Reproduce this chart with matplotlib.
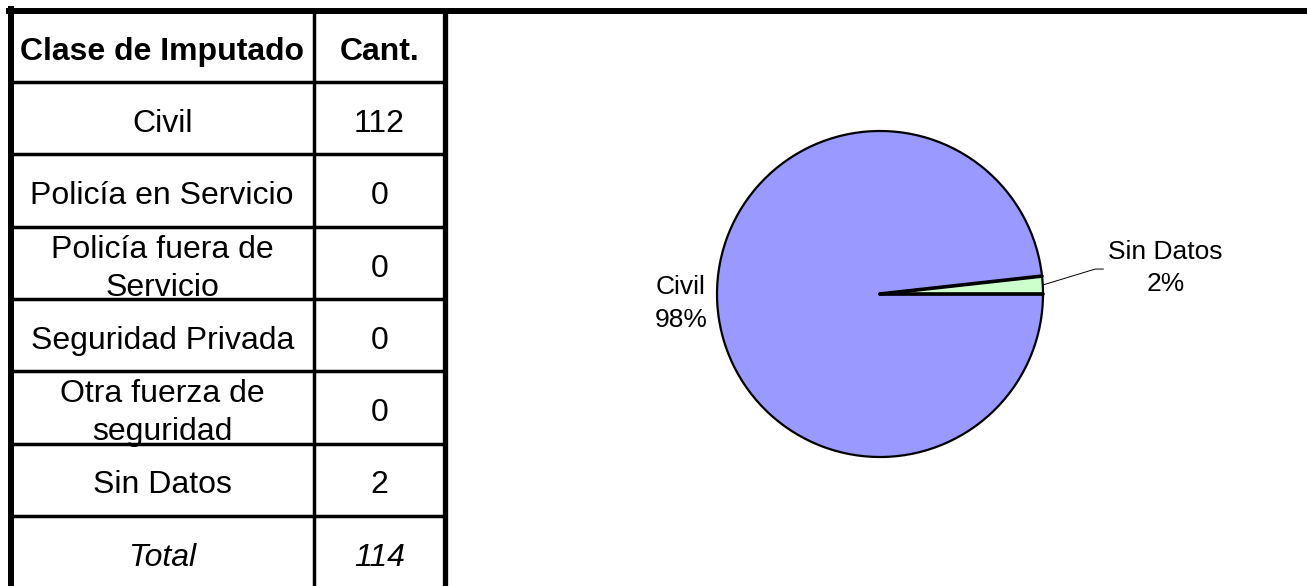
import numpy as np
import matplotlib.pyplot as plt
from matplotlib.transforms import Bbox

# table data
header = ["Clase de Imputado", "Cant."]
categories = ["Civil", "Policía en Servicio", "Policía fuera de\nServicio",
              "Seguridad Privada", "Otra fuerza de\nseguridad", "Sin Datos"]
counts = [112, 0, 0, 0, 0, 2]
total_label = "Total"

slice_colors = {"Civil": "#9999ff", "Sin Datos": "#ccffcc"}

W, H = 1307, 586
fig = plt.figure(figsize=(W / 100, H / 100), dpi=100)
ax = fig.add_axes([0, 0, 1, 1])
ax.set_xlim(0, W)
ax.set_ylim(H, 0)
ax.axis("off")

font = "Liberation Sans"
fs = 23

col_x = [10.5, 314, 444.5]
top = 11
head_h = 71
row_h = 72.3
n_rows = len(categories) + 1
row_y = [top, top + head_h] + [top + head_h + row_h * (i + 1) for i in range(n_rows)]


def cell(text, col, r, **kw):
    x0, x1 = col_x[col], col_x[col + 1]
    y0, y1 = row_y[r], row_y[r + 1]
    pts = ax.transData.transform([(x0, y0), (x1, y1)])
    clip = Bbox.from_extents(pts[:, 0].min(), pts[:, 1].min(), pts[:, 0].max(), pts[:, 1].max())
    lines = text.split("\n")
    yc = (y0 + y1) / 2 + 13.8
    for i, line in enumerate(lines):
        y = yc + (i - (len(lines) - 1) / 2) * 38
        t = ax.text((x0 + x1) / 2, y, line, ha="center", va="baseline",
                    fontsize=fs, family=font, **kw)
        t.set_clip_box(clip)


cell(header[0], 0, 0, fontweight="bold")
cell(header[1], 1, 0, fontweight="bold")
for i, (c, v) in enumerate(zip(categories, counts)):
    cell(c, 0, i + 1)
    cell(str(v), 1, i + 1)
cell(total_label, 0, n_rows, style="italic")
cell(str(sum(counts)), 1, n_rows, style="italic")

# grid lines
for y in row_y[1:]:
    ax.plot([col_x[0], col_x[2]], [y, y], color="black", lw=2.5, zorder=5)
ax.plot([col_x[1], col_x[1]], [top, H], color="black", lw=2.5, zorder=5)
ax.plot([col_x[2], col_x[2]], [top, H], color="black", lw=3.8, zorder=5)
ax.plot([col_x[0], col_x[0]], [top - 2, H], color="black", lw=4.3, zorder=5)
ax.plot([col_x[0] - 2, W], [top, top], color="black", lw=4.3, zorder=5)

# pie
pie_labels = [c for c, v in zip(categories, counts) if v > 0]
pie_vals = [v for v in counts if v > 0]
total = sum(counts)
cx, cy, r = 880, 294, 163
pax = fig.add_axes([(cx - r) / W, (H - cy - r) / H, 2 * r / W, 2 * r / H])
start = 360 * pie_vals[-1] / total
wedges, _ = pax.pie(pie_vals, colors=[slice_colors[c] for c in pie_labels],
                    startangle=start, counterclock=True,
                    wedgeprops=dict(edgecolor="black", linewidth=1.6))
for w in wedges:
    w.set_clip_on(False)
    a = np.deg2rad(w.theta1)
    pax.plot([0, np.cos(a)], [0, np.sin(a)], color="black", lw=2.6,
             solid_capstyle="round", clip_on=False)
pax.set_xlim(-1, 1)
pax.set_ylim(-1, 1)
pax.axis("off")

for w, lab, v in zip(wedges, pie_labels, pie_vals):
    ang = np.deg2rad((w.theta1 + w.theta2) / 2)
    txt = f"{lab}\n{round(100 * v / total)}%"
    if np.cos(ang) < 0:
        pax.text(1.06 * np.cos(ang), 1.06 * np.sin(ang), txt, ha="right", va="center",
                 multialignment="center", fontsize=19, family=font, linespacing=1.5)
    else:
        ex, ey = np.cos(ang), np.sin(ang)
        pax.plot([ex, 1.32, 1.37], [ey, 0.153, 0.153], color="black", lw=0.7, clip_on=False)
        pax.text(1.75, 0.16, txt, ha="center", va="center",
                 multialignment="center", fontsize=19, family=font, linespacing=1.45)

fig.savefig("out.png", dpi=100)
